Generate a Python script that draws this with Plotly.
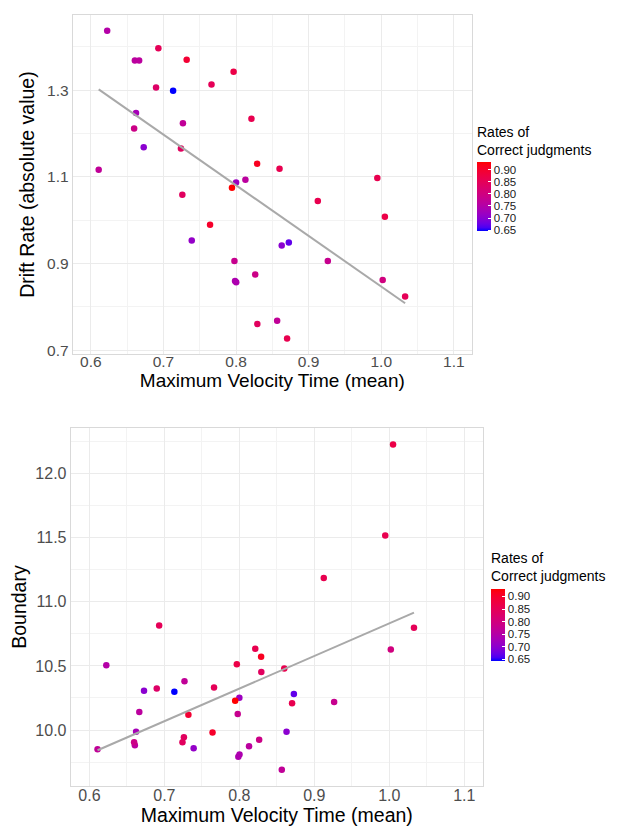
import numpy as np
import plotly.graph_objects as go

# ---------------- data ----------------
velocity = [0.6225, 0.6930, 0.6606, 0.6665, 0.7320, 0.7966, 0.6898, 0.7133, 0.7662, 0.6622,
            0.7268, 0.8212, 0.6596, 0.6728, 0.7241, 0.6108, 0.8290, 0.8599, 0.8000, 0.8129,
            0.7944, 0.7260, 0.9946, 0.9126, 0.7642, 0.7390, 0.7978, 0.8264, 0.7986, 0.8002,
            0.8629, 0.8293, 0.8566, 0.8703, 1.0050, 0.8727, 0.9264, 1.0020, 1.0329]
drift = [1.4375, 1.3970, 1.3687, 1.3687, 1.3703, 1.3428, 1.3062, 1.2986, 1.3130, 1.2473,
         1.2237, 1.2345, 1.2116, 1.1687, 1.1657, 1.1167, 1.1305, 1.1190, 1.0870, 1.0938,
         1.0748, 1.0588, 1.0977, 1.0443, 0.9900, 0.9534, 0.9060, 0.8748, 0.8601, 0.8570,
         0.9420, 0.7610, 0.7680, 0.7273, 1.0084, 0.9488, 0.9060, 0.8625, 0.8244]
boundary = [10.504, 10.815, 9.881, 10.141, 10.120, 10.512, 10.324, 10.298, 10.332, 9.987,
            10.381, 10.633, 9.904, 10.306, 9.904, 9.850, 10.571, 10.479, 10.252, 9.873,
            10.229, 9.943, 11.516, 11.184, 9.981, 9.858, 10.126, 9.925, 9.791, 9.809,
            9.987, 10.453, 9.691, 10.208, 12.226, 10.280, 10.219, 10.628, 10.798]
correct = [0.75, 0.85, 0.76, 0.76, 0.89, 0.87, 0.83, 0.645, 0.85, 0.73,
           0.77, 0.86, 0.79, 0.70, 0.84, 0.77, 0.91, 0.86, 0.72, 0.76,
           0.93, 0.84, 0.86, 0.86, 0.90, 0.71, 0.78, 0.79, 0.74, 0.74,
           0.70, 0.84, 0.77, 0.86, 0.87, 0.67, 0.78, 0.80, 0.85]

x_ticks = [0.6, 0.7, 0.8, 0.9, 1.0, 1.1]
x_minor = [0.65, 0.75, 0.85, 0.95, 1.05]
drift_ticks = [0.7, 0.9, 1.1, 1.3]
drift_minor = [0.8, 1.0, 1.2, 1.4]
boundary_ticks = [10.0, 10.5, 11.0, 11.5, 12.0]
boundary_minor = [9.75, 10.25, 10.75, 11.25, 11.75, 12.25]
rate_ticks = [0.65, 0.70, 0.75, 0.80, 0.85, 0.90]
x_limits = [0.6, 1.1]

# ---------------- colour scale: blue -> red interpolated in CIELAB ----------------
M = np.array([[0.4124, 0.3576, 0.1805], [0.2126, 0.7152, 0.0722], [0.0193, 0.1192, 0.9505]])
Minv = np.linalg.inv(M)
WHITE = np.array([0.95047, 1.0, 1.08883])


def to_lab(rgb):
    c = np.array(rgb) / 255.0
    lin = np.where(c <= 0.04045, c / 12.92, ((c + 0.055) / 1.055) ** 2.4)
    xyz = M @ lin / WHITE
    f = np.where(xyz > 0.008856, np.cbrt(xyz), 7.787 * xyz + 16 / 116)
    return np.array([116 * f[1] - 16, 500 * (f[0] - f[1]), 200 * (f[1] - f[2])])


def from_lab(lab):
    fy = (lab[0] + 16) / 116
    f = np.array([fy + lab[1] / 500, fy, fy - lab[2] / 200])
    xyz = np.where(f ** 3 > 0.008856, f ** 3, (f - 16 / 116) / 7.787) * WHITE
    lin = Minv @ xyz
    c = np.where(lin <= 0.0031308, 12.92 * lin, 1.055 * np.clip(lin, 0, None) ** (1 / 2.4) - 0.055)
    c = np.clip(c, 0, 1) * 255
    return "rgb(%d,%d,%d)" % tuple(np.round(c).astype(int))


lab_lo, lab_hi = to_lab((0, 0, 255)), to_lab((255, 0, 0))
colorscale = [[t, from_lab(lab_lo + (lab_hi - lab_lo) * t)] for t in np.linspace(0, 1, 21)]

# ---------------- figure ----------------
FONT = "Liberation Sans, Arial, sans-serif"
W, H = 625, 827
vx = np.array(velocity)


def expand(vals):
    lo, hi = min(vals), max(vals)
    pad = (hi - lo) * 0.05
    return [lo - pad, hi + pad]


xr = [x_limits[0] - 0.05 * (x_limits[1] - x_limits[0]), x_limits[1] + 0.05 * (x_limits[1] - x_limits[0])]

fig = go.Figure()

for i, yvals in enumerate([drift, boundary]):
    sfx = "" if i == 0 else "2"
    k, b0 = np.polyfit(vx, np.array(yvals), 1)
    xs = np.array([vx.min(), vx.max()])
    fig.add_trace(go.Scatter(x=velocity, y=yvals, mode="markers", xaxis="x" + sfx, yaxis="y" + sfx,
                             marker=dict(size=6.5, color=correct, coloraxis="coloraxis" + sfx),
                             showlegend=False, hoverinfo="skip"))
    fig.add_trace(go.Scatter(x=xs, y=k * xs + b0, mode="lines", xaxis="x" + sfx, yaxis="y" + sfx,
                             line=dict(color="#A9A9A9", width=2), showlegend=False, hoverinfo="skip"))

grid = "#EBEBEB"
minor_grid = "#F3F3F3"
border = "#D9D9D9"


def xaxis(domain, anchor, tsize, hsize, standoff):
    return dict(domain=domain, anchor=anchor, range=xr, tickvals=x_ticks,
                ticktext=["%.1f" % v for v in x_ticks], showgrid=True, gridcolor=grid, gridwidth=1.2,
                minor=dict(tickvals=x_minor, showgrid=True, gridcolor=minor_grid, gridwidth=1),
                zeroline=False, showline=True, mirror=True, linecolor=border, linewidth=1,
                ticks="", ticklabelstandoff=standoff,
                tickfont=dict(family=FONT, size=tsize, color="#4D4D4D"),
                title=dict(text="Maximum Velocity Time (mean)",
                           font=dict(family=FONT, size=hsize, color="#000000"), standoff=4))


def yaxis(domain, anchor, rng, ticks, minor, title, tsize, hsize, standoff):
    return dict(domain=domain, anchor=anchor, range=rng, tickvals=ticks,
                ticktext=["%.1f" % v for v in ticks], showgrid=True, gridcolor=grid, gridwidth=1.2,
                minor=dict(tickvals=minor, showgrid=True, gridcolor=minor_grid, gridwidth=1),
                zeroline=False, showline=True, mirror=True, linecolor=border, linewidth=1,
                ticks="", tickfont=dict(family=FONT, size=tsize, color="#4D4D4D"),
                title=dict(text=title, font=dict(family=FONT, size=hsize, color="#000000"),
                           standoff=standoff))


def cbar(x, y_top, length):
    return dict(colorscale=colorscale, cmin=min(correct), cmax=max(correct),
                colorbar=dict(x=x / W, xanchor="left", y=1 - y_top / H, yanchor="top",
                              len=length, lenmode="pixels", thickness=14, thicknessmode="pixels",
                              xpad=0, ypad=0, outlinewidth=0,
                              tickvals=rate_ticks, ticktext=["%.2f" % v for v in rate_ticks],
                              ticks="inside", ticklen=3, tickcolor="white",
                              tickfont=dict(family=FONT, size=11.5, color="#1A1A1A"),
                              title=dict(text="Rates of<br>Correct judgments", side="top",
                                         font=dict(family=FONT, size=14, color="#000000"))))


fig.update_layout(
    width=W, height=H, margin=dict(l=0, r=0, t=0, b=0),
    paper_bgcolor="white", plot_bgcolor="white",
    font=dict(family=FONT),
    xaxis=xaxis([64.7 / W, 464 / W], "y", 15.5, 19, -6),
    yaxis=yaxis([1 - 348 / H, 1 - 7.3 / H], "x", expand(drift), drift_ticks, drift_minor,
                "Drift Rate (absolute value)", 15.5, 19.5, 7),
    xaxis2=xaxis([62.7 / W, 475 / W], "y2", 16, 19.5, -5),
    yaxis2=yaxis([1 - 782.7 / H, 1 - 422.7 / H], "x2", expand(boundary), boundary_ticks, boundary_minor,
                 "Boundary", 16, 19.5, 7),
    coloraxis=cbar(469, 116, 108),
    coloraxis2=cbar(483, 545, 111),
)

fig.write_html("out.html")
